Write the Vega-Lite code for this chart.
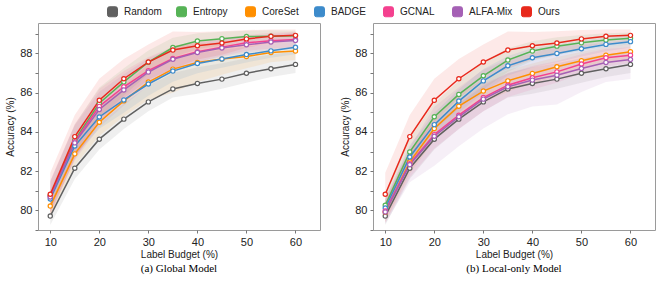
{
  "$schema": "https://vega.github.io/schema/vega-lite/v6.json",
  "padding": {"left": 5, "top": 6, "right": 5, "bottom": 3},
  "datasets": {
    "global": [
      {"m":"Random","x":10,"y":79.71,"lo":79.25,"hi":80.35},
      {"m":"Random","x":15,"y":82.15,"lo":81.6,"hi":82.85},
      {"m":"Random","x":20,"y":83.63,"lo":83.1,"hi":84.4},
      {"m":"Random","x":25,"y":84.65,"lo":84.15,"hi":85.45},
      {"m":"Random","x":30,"y":85.53,"lo":85.05,"hi":86.35},
      {"m":"Random","x":35,"y":86.19,"lo":85.75,"hi":87.0},
      {"m":"Random","x":40,"y":86.47,"lo":85.95,"hi":87.3},
      {"m":"Random","x":45,"y":86.69,"lo":86.2,"hi":87.5},
      {"m":"Random","x":50,"y":86.99,"lo":86.5,"hi":87.75},
      {"m":"Random","x":55,"y":87.22,"lo":86.8,"hi":87.95},
      {"m":"Random","x":60,"y":87.44,"lo":87.0,"hi":88.1},
      {"m":"Entropy","x":10,"y":80.76,"lo":80.06,"hi":81.46},
      {"m":"Entropy","x":15,"y":83.58,"lo":82.78,"hi":84.38},
      {"m":"Entropy","x":20,"y":85.46,"lo":84.66,"hi":86.26},
      {"m":"Entropy","x":25,"y":86.55,"lo":85.85,"hi":87.25},
      {"m":"Entropy","x":30,"y":87.55,"lo":86.95,"hi":88.15},
      {"m":"Entropy","x":35,"y":88.3,"lo":87.8,"hi":88.8},
      {"m":"Entropy","x":40,"y":88.63,"lo":88.23,"hi":89.03},
      {"m":"Entropy","x":45,"y":88.75,"lo":88.4,"hi":89.1},
      {"m":"Entropy","x":50,"y":88.86,"lo":88.56,"hi":89.16},
      {"m":"Entropy","x":55,"y":88.88,"lo":88.58,"hi":89.18},
      {"m":"Entropy","x":60,"y":88.9,"lo":88.65,"hi":89.15},
      {"m":"CoreSet","x":10,"y":80.22,"lo":79.72,"hi":80.72},
      {"m":"CoreSet","x":15,"y":82.88,"lo":82.28,"hi":83.48},
      {"m":"CoreSet","x":20,"y":84.49,"lo":83.79,"hi":85.19},
      {"m":"CoreSet","x":25,"y":85.58,"lo":84.78,"hi":86.38},
      {"m":"CoreSet","x":30,"y":86.54,"lo":85.64,"hi":87.44},
      {"m":"CoreSet","x":35,"y":87.2,"lo":86.0,"hi":88.4},
      {"m":"CoreSet","x":40,"y":87.54,"lo":86.54,"hi":88.54},
      {"m":"CoreSet","x":45,"y":87.71,"lo":86.91,"hi":88.51},
      {"m":"CoreSet","x":50,"y":87.84,"lo":87.24,"hi":88.44},
      {"m":"CoreSet","x":55,"y":88.05,"lo":87.55,"hi":88.55},
      {"m":"CoreSet","x":60,"y":88.12,"lo":87.67,"hi":88.57},
      {"m":"BADGE","x":10,"y":80.58,"lo":80.13,"hi":81.03},
      {"m":"BADGE","x":15,"y":83.28,"lo":82.78,"hi":83.78},
      {"m":"BADGE","x":20,"y":84.76,"lo":84.16,"hi":85.36},
      {"m":"BADGE","x":25,"y":85.63,"lo":84.98,"hi":86.28},
      {"m":"BADGE","x":30,"y":86.44,"lo":85.84,"hi":87.04},
      {"m":"BADGE","x":35,"y":87.1,"lo":86.55,"hi":87.65},
      {"m":"BADGE","x":40,"y":87.49,"lo":86.99,"hi":87.99},
      {"m":"BADGE","x":45,"y":87.72,"lo":87.27,"hi":88.17},
      {"m":"BADGE","x":50,"y":87.94,"lo":87.54,"hi":88.34},
      {"m":"BADGE","x":55,"y":88.13,"lo":87.78,"hi":88.48},
      {"m":"BADGE","x":60,"y":88.31,"lo":87.96,"hi":88.66},
      {"m":"GCNAL","x":10,"y":80.72,"lo":79.92,"hi":81.52},
      {"m":"GCNAL","x":15,"y":83.5,"lo":82.6,"hi":84.4},
      {"m":"GCNAL","x":20,"y":85.3,"lo":84.4,"hi":86.2},
      {"m":"GCNAL","x":25,"y":86.3,"lo":85.5,"hi":87.1},
      {"m":"GCNAL","x":30,"y":87.12,"lo":86.42,"hi":87.82},
      {"m":"GCNAL","x":35,"y":87.74,"lo":87.14,"hi":88.34},
      {"m":"GCNAL","x":40,"y":88.08,"lo":87.58,"hi":88.58},
      {"m":"GCNAL","x":45,"y":88.32,"lo":87.87,"hi":88.77},
      {"m":"GCNAL","x":50,"y":88.54,"lo":88.14,"hi":88.94},
      {"m":"GCNAL","x":55,"y":88.65,"lo":88.25,"hi":89.05},
      {"m":"GCNAL","x":60,"y":88.71,"lo":88.31,"hi":89.11},
      {"m":"ALFA-Mix","x":10,"y":80.68,"lo":79.88,"hi":81.48},
      {"m":"ALFA-Mix","x":15,"y":83.44,"lo":82.54,"hi":84.34},
      {"m":"ALFA-Mix","x":20,"y":85.14,"lo":84.24,"hi":86.04},
      {"m":"ALFA-Mix","x":25,"y":86.14,"lo":85.34,"hi":86.94},
      {"m":"ALFA-Mix","x":30,"y":87.05,"lo":86.35,"hi":87.75},
      {"m":"ALFA-Mix","x":35,"y":87.7,"lo":87.1,"hi":88.3},
      {"m":"ALFA-Mix","x":40,"y":88.05,"lo":87.55,"hi":88.55},
      {"m":"ALFA-Mix","x":45,"y":88.28,"lo":87.83,"hi":88.73},
      {"m":"ALFA-Mix","x":50,"y":88.44,"lo":88.04,"hi":88.84},
      {"m":"ALFA-Mix","x":55,"y":88.58,"lo":88.18,"hi":88.98},
      {"m":"ALFA-Mix","x":60,"y":88.66,"lo":88.26,"hi":89.06},
      {"m":"Ours","x":10,"y":80.82,"lo":79.72,"hi":81.92},
      {"m":"Ours","x":15,"y":83.76,"lo":82.66,"hi":84.86},
      {"m":"Ours","x":20,"y":85.61,"lo":84.51,"hi":86.71},
      {"m":"Ours","x":25,"y":86.71,"lo":85.71,"hi":87.71},
      {"m":"Ours","x":30,"y":87.56,"lo":86.66,"hi":88.46},
      {"m":"Ours","x":35,"y":88.17,"lo":87.22,"hi":89.12},
      {"m":"Ours","x":40,"y":88.39,"lo":87.69,"hi":89.09},
      {"m":"Ours","x":45,"y":88.53,"lo":87.93,"hi":89.13},
      {"m":"Ours","x":50,"y":88.74,"lo":88.29,"hi":89.19},
      {"m":"Ours","x":55,"y":88.87,"lo":88.52,"hi":89.22},
      {"m":"Ours","x":60,"y":88.92,"lo":88.62,"hi":89.22}
    ],
    "local": [
      {"m":"Random","x":10,"y":79.71,"lo":79.25,"hi":80.35},
      {"m":"Random","x":15,"y":82.15,"lo":81.6,"hi":82.85},
      {"m":"Random","x":20,"y":83.63,"lo":83.1,"hi":84.4},
      {"m":"Random","x":25,"y":84.65,"lo":84.15,"hi":85.45},
      {"m":"Random","x":30,"y":85.53,"lo":85.05,"hi":86.35},
      {"m":"Random","x":35,"y":86.19,"lo":85.75,"hi":87.0},
      {"m":"Random","x":40,"y":86.47,"lo":85.95,"hi":87.3},
      {"m":"Random","x":45,"y":86.69,"lo":86.2,"hi":87.5},
      {"m":"Random","x":50,"y":86.99,"lo":86.5,"hi":87.75},
      {"m":"Random","x":55,"y":87.22,"lo":86.8,"hi":87.95},
      {"m":"Random","x":60,"y":87.44,"lo":87.0,"hi":88.1},
      {"m":"Entropy","x":10,"y":80.26,"lo":79.66,"hi":80.86},
      {"m":"Entropy","x":15,"y":82.98,"lo":82.28,"hi":83.68},
      {"m":"Entropy","x":20,"y":84.77,"lo":84.07,"hi":85.47},
      {"m":"Entropy","x":25,"y":85.91,"lo":85.21,"hi":86.61},
      {"m":"Entropy","x":30,"y":86.86,"lo":86.16,"hi":87.56},
      {"m":"Entropy","x":35,"y":87.66,"lo":87.06,"hi":88.26},
      {"m":"Entropy","x":40,"y":88.12,"lo":87.62,"hi":88.62},
      {"m":"Entropy","x":45,"y":88.37,"lo":87.92,"hi":88.82},
      {"m":"Entropy","x":50,"y":88.54,"lo":88.14,"hi":88.94},
      {"m":"Entropy","x":55,"y":88.68,"lo":88.33,"hi":89.03},
      {"m":"Entropy","x":60,"y":88.77,"lo":88.47,"hi":89.07},
      {"m":"CoreSet","x":10,"y":79.91,"lo":79.41,"hi":80.41},
      {"m":"CoreSet","x":15,"y":82.47,"lo":81.87,"hi":83.07},
      {"m":"CoreSet","x":20,"y":84.17,"lo":83.57,"hi":84.77},
      {"m":"CoreSet","x":25,"y":85.31,"lo":84.71,"hi":85.91},
      {"m":"CoreSet","x":30,"y":86.08,"lo":85.48,"hi":86.68},
      {"m":"CoreSet","x":35,"y":86.6,"lo":86.05,"hi":87.15},
      {"m":"CoreSet","x":40,"y":86.98,"lo":86.48,"hi":87.48},
      {"m":"CoreSet","x":45,"y":87.32,"lo":86.82,"hi":87.82},
      {"m":"CoreSet","x":50,"y":87.63,"lo":87.18,"hi":88.08},
      {"m":"CoreSet","x":55,"y":87.91,"lo":87.51,"hi":88.31},
      {"m":"CoreSet","x":60,"y":88.09,"lo":87.69,"hi":88.49},
      {"m":"BADGE","x":10,"y":80.12,"lo":79.62,"hi":80.62},
      {"m":"BADGE","x":15,"y":82.72,"lo":82.12,"hi":83.32},
      {"m":"BADGE","x":20,"y":84.37,"lo":83.77,"hi":84.97},
      {"m":"BADGE","x":25,"y":85.57,"lo":84.97,"hi":86.17},
      {"m":"BADGE","x":30,"y":86.6,"lo":86.0,"hi":87.2},
      {"m":"BADGE","x":35,"y":87.37,"lo":86.87,"hi":87.87},
      {"m":"BADGE","x":40,"y":87.78,"lo":87.28,"hi":88.28},
      {"m":"BADGE","x":45,"y":88.0,"lo":87.55,"hi":88.45},
      {"m":"BADGE","x":50,"y":88.24,"lo":87.84,"hi":88.64},
      {"m":"BADGE","x":55,"y":88.46,"lo":88.11,"hi":88.81},
      {"m":"BADGE","x":60,"y":88.6,"lo":88.3,"hi":88.9},
      {"m":"GCNAL","x":10,"y":79.97,"lo":79.37,"hi":80.57},
      {"m":"GCNAL","x":15,"y":82.38,"lo":81.68,"hi":83.08},
      {"m":"GCNAL","x":20,"y":83.86,"lo":83.16,"hi":84.56},
      {"m":"GCNAL","x":25,"y":84.85,"lo":84.15,"hi":85.55},
      {"m":"GCNAL","x":30,"y":85.75,"lo":85.05,"hi":86.45},
      {"m":"GCNAL","x":35,"y":86.38,"lo":85.78,"hi":86.98},
      {"m":"GCNAL","x":40,"y":86.76,"lo":86.16,"hi":87.36},
      {"m":"GCNAL","x":45,"y":87.06,"lo":86.51,"hi":87.61},
      {"m":"GCNAL","x":50,"y":87.46,"lo":86.96,"hi":87.96},
      {"m":"GCNAL","x":55,"y":87.78,"lo":87.33,"hi":88.23},
      {"m":"GCNAL","x":60,"y":87.91,"lo":87.51,"hi":88.31},
      {"m":"ALFA-Mix","x":10,"y":79.92,"lo":79.32,"hi":80.52},
      {"m":"ALFA-Mix","x":15,"y":82.33,"lo":81.43,"hi":83.23},
      {"m":"ALFA-Mix","x":20,"y":83.78,"lo":82.28,"hi":85.28},
      {"m":"ALFA-Mix","x":25,"y":84.77,"lo":83.27,"hi":86.27},
      {"m":"ALFA-Mix","x":30,"y":85.67,"lo":84.17,"hi":87.17},
      {"m":"ALFA-Mix","x":35,"y":86.3,"lo":84.9,"hi":87.7},
      {"m":"ALFA-Mix","x":40,"y":86.64,"lo":85.29,"hi":87.99},
      {"m":"ALFA-Mix","x":45,"y":86.89,"lo":85.39,"hi":88.39},
      {"m":"ALFA-Mix","x":50,"y":87.23,"lo":86.03,"hi":88.43},
      {"m":"ALFA-Mix","x":55,"y":87.54,"lo":86.54,"hi":88.54},
      {"m":"ALFA-Mix","x":60,"y":87.69,"lo":86.69,"hi":88.69},
      {"m":"Ours","x":10,"y":80.82,"lo":79.72,"hi":81.92},
      {"m":"Ours","x":15,"y":83.76,"lo":82.66,"hi":84.86},
      {"m":"Ours","x":20,"y":85.61,"lo":84.51,"hi":86.71},
      {"m":"Ours","x":25,"y":86.71,"lo":85.71,"hi":87.71},
      {"m":"Ours","x":30,"y":87.56,"lo":86.66,"hi":88.46},
      {"m":"Ours","x":35,"y":88.17,"lo":87.22,"hi":89.12},
      {"m":"Ours","x":40,"y":88.39,"lo":87.69,"hi":89.09},
      {"m":"Ours","x":45,"y":88.53,"lo":87.93,"hi":89.13},
      {"m":"Ours","x":50,"y":88.74,"lo":88.29,"hi":89.19},
      {"m":"Ours","x":55,"y":88.87,"lo":88.52,"hi":89.22},
      {"m":"Ours","x":60,"y":88.92,"lo":88.62,"hi":89.22}
    ]
  },
  "spacing": 19,
  "hconcat": [
    {
      "width": 282, "height": 207,
      "data": {"name": "global"},
      "title": {"text": "(a) Global Model", "orient": "bottom", "fontWeight": 400, "font": "Liberation Serif", "fontSize": 11},
      "resolve": {"axis": {"y": "independent"}},
      "layer": [
        {
          "mark": {"type": "area", "opacity": 0.1},
          "encoding": {
            "x": {"field": "x", "type": "quantitative"},
            "y": {"field": "lo", "type": "quantitative",
                  "scale": {"domain": [79, 89.55], "nice": false, "zero": false},
                  "axis": {"orient": "left", "values": [79,81,83,85,87,89], "labels": false, "title": null}},
            "y2": {"field": "hi"},
            "color": {"field": "m", "type": "nominal"}
          }
        },
        {
          "mark": {"type": "line", "strokeWidth": 1.5, "point": {"filled": false, "fill": "white", "size": 18, "strokeWidth": 1.2}},
          "encoding": {
            "x": {"field": "x", "type": "quantitative", "title": "Label Budget (%)",
                  "scale": {"domain": [7.5, 65], "nice": false},
                  "axis": {"values": [10,15,20,25,30,35,40,45,50,55,60], "titlePadding": 2, "labelOverlap": false, "labelExpr": "datum.value % 10 == 0 ? datum.label : ''"}},
            "y": {"field": "y", "type": "quantitative", "title": "Accuracy (%)",
                  "scale": {"domain": [79, 89.55], "nice": false, "zero": false},
                  "axis": {"orient": "left", "values": [80,82,84,86,88]}},
            "color": {"field": "m", "type": "nominal",
                      "scale": {"domain": ["Random","Entropy","CoreSet","BADGE","GCNAL","ALFA-Mix","Ours"],
                                "range": ["#606060","#56b356","#ff8f00","#3d8bcb","#f4418f","#a560b5","#e8291c"]}}
          }
        }
      ]
    },
    {
      "width": 282, "height": 207,
      "data": {"name": "local"},
      "title": {"text": "(b) Local-only Model", "orient": "bottom", "fontWeight": 400, "font": "Liberation Serif", "fontSize": 11},
      "resolve": {"axis": {"y": "independent"}},
      "layer": [
        {
          "mark": {"type": "area", "opacity": 0.1},
          "encoding": {
            "x": {"field": "x", "type": "quantitative"},
            "y": {"field": "lo", "type": "quantitative",
                  "scale": {"domain": [79, 89.55], "nice": false, "zero": false},
                  "axis": {"orient": "left", "values": [79,81,83,85,87,89], "labels": false, "title": null}},
            "y2": {"field": "hi"},
            "color": {"field": "m", "type": "nominal"}
          }
        },
        {
          "mark": {"type": "line", "strokeWidth": 1.5, "point": {"filled": false, "fill": "white", "size": 18, "strokeWidth": 1.2}},
          "encoding": {
            "x": {"field": "x", "type": "quantitative", "title": "Label Budget (%)",
                  "scale": {"domain": [7.5, 65], "nice": false},
                  "axis": {"values": [10,15,20,25,30,35,40,45,50,55,60], "titlePadding": 2, "labelOverlap": false, "labelExpr": "datum.value % 10 == 0 ? datum.label : ''"}},
            "y": {"field": "y", "type": "quantitative", "title": "Accuracy (%)",
                  "scale": {"domain": [79, 89.55], "nice": false, "zero": false},
                  "axis": {"orient": "left", "values": [80,82,84,86,88]}},
            "color": {"field": "m", "type": "nominal",
                      "scale": {"domain": ["Random","Entropy","CoreSet","BADGE","GCNAL","ALFA-Mix","Ours"],
                                "range": ["#606060","#56b356","#ff8f00","#3d8bcb","#f4418f","#a560b5","#e8291c"]}}
          }
        }
      ]
    }
  ],
  "config": {
    "font": "Liberation Sans",
    "view": {"stroke": "#9a9a9a", "strokeWidth": 1},
    "style": {"group-title": {"fontWeight": "normal", "font": "Liberation Serif", "fontSize": 11}},
    "axis": {"grid": false, "domain": false, "tickColor": "#777", "tickSize": 3, "labelOverlap": false,
             "labelFont": "Liberation Sans", "labelFontSize": 11, "labelColor": "#222", "labelPadding": 3,
             "titleFont": "Liberation Sans", "titleFontSize": 10, "titleFontWeight": "normal", "titleColor": "#222", "titlePadding": 4},
    "title": {"font": "Liberation Serif", "fontSize": 11, "fontWeight": 400, "color": "#000", "anchor": "middle", "offset": 4},
    "legend": {
      "orient": "none", "legendX": 69, "legendY": -17,
      "direction": "horizontal", "columns": 7, "title": null, "titleFontSize": 0, "titlePadding": 0,
      "gridAlign": "all", "columnPadding": 6,
      "symbolType": "M-0.6,-1H0.6Q1,-1 1,-0.6V0.6Q1,1 0.6,1H-0.6Q-1,1 -1,0.6V-0.6Q-1,-1 -0.6,-1Z",
      "symbolSize": 100, "symbolStrokeColor": "#444", "symbolStrokeWidth": 1, "symbolOpacity": 1,
      "labelFont": "Liberation Sans", "labelFontSize": 10, "labelOffset": 6, "labelColor": "#222"
    }
  }
}
